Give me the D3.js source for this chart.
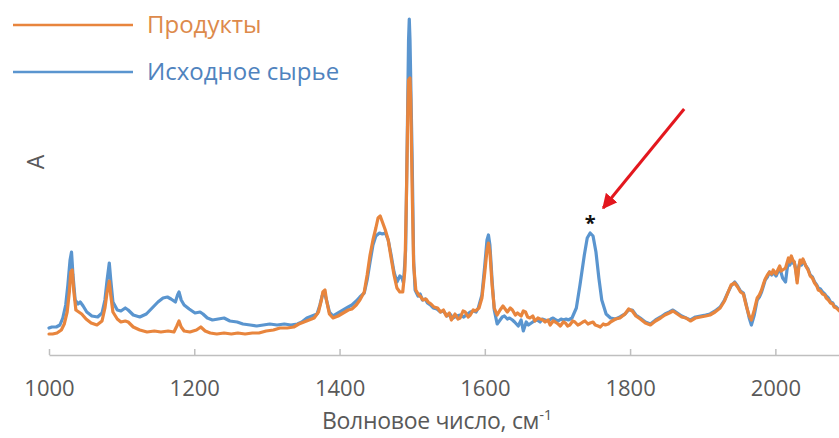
<!DOCTYPE html>
<html>
<head>
<meta charset="utf-8">
<script src="https://cdn.jsdelivr.net/npm/d3@7"></script>
<style>
  html, body { margin: 0; padding: 0; background: #fff; overflow: hidden; }
  svg { display: block; font-family: "Open Sans", "Noto Sans", sans-serif; }
</style>
</head>
<body>
<svg id="chart" width="839" height="438"></svg>
<script>
// Spectrum: wavenumber (cm-1) vs absorbance (arbitrary units)
const seriesNames = ["Продукты", "Исходное сырье"];
const seriesColors = ["#E8853D", "#5A95CF"];
const legendTextColors = ["#DD8A4B", "#4F83BE"];
const xTicks = [1000, 1200, 1400, 1600, 1800, 2000];

// Исходное сырье
const feedstock = [
  [1000,27],[1004,28],[1010,28],[1015,30],[1019,37],[1023,50],[1026,70],[1029,95],[1031,103],[1033,80],
  [1036,55],[1040,51],[1043,53],[1047,49],[1052,43],[1059,39],[1067,38],[1073,42],[1077,55],[1080,75],
  [1083,92],[1085,75],[1088,53],[1094,45],[1099,44],[1105,47],[1109,45],[1116,40],[1125,38],[1134,41],
  [1142,47],[1150,53],[1157,57],[1163,58],[1168,56],[1174,53],[1177,60],[1179,63],[1182,55],[1186,50],
  [1193,46],[1201,42],[1208,43],[1212,41],[1218,37],[1225,35],[1233,36],[1241,37],[1249,34],[1259,33],
  [1267,31],[1277,30],[1286,29],[1295,30],[1304,31],[1314,30],[1324,31],[1333,30],[1342,31],[1348,33],
  [1355,37],[1362,39],[1369,41],[1373,50],[1376,59],[1379,63],[1382,55],[1386,43],[1391,39],[1398,42],
  [1405,45],[1412,48],[1417,50],[1423,54],[1428,58],[1434,62],[1438,75],[1442,93],[1446,110],[1450,119],
  [1455,122],[1459,121],[1463,122],[1467,115],[1471,100],[1475,83],[1479,73],[1483,79],[1486,77],[1488,72],
  [1491,105],[1493,205],[1495,315],[1496,336],[1497,315],[1500,195],[1502,95],[1504,65],[1508,59],[1511,61],
  [1514,55],[1518,56],[1521,52],[1525,50],[1529,47],[1534,46],[1539,43],[1543,44],[1548,39],[1552,41],
  [1556,37],[1561,39],[1566,40],[1571,38],[1576,41],[1580,43],[1584,44],[1588,43],[1591,47],[1596,60],
  [1600,90],[1603,115],[1605,120],[1607,110],[1610,75],[1613,45],[1617,31],[1621,35],[1624,38],[1627,39],
  [1631,36],[1634,37],[1638,35],[1641,33],[1646,29],[1650,35],[1653,24],[1657,33],[1660,30],[1664,32],
  [1668,34],[1672,35],[1676,33],[1679,36],[1683,35],[1687,34],[1691,36],[1694,37],[1698,35],[1701,34],
  [1705,36],[1708,35],[1712,36],[1715,35],[1720,37],[1726,47],[1731,70],[1737,100],[1741,117],[1745,122],
  [1749,119],[1753,103],[1757,77],[1761,55],[1767,41],[1773,37],[1780,36],[1786,38],[1793,41],[1798,45],
  [1803,45],[1808,40],[1814,37],[1821,33],[1828,31],[1835,35],[1842,38],[1848,41],[1854,43],[1859,45],
  [1865,42],[1871,39],[1877,37],[1883,35],[1890,38],[1897,39],[1904,40],[1910,41],[1917,44],[1924,48],
  [1930,55],[1935,63],[1939,69],[1944,73],[1948,69],[1952,64],[1956,62],[1960,50],[1964,37],[1967,30],
  [1971,40],[1975,55],[1978,58],[1981,63],[1984,70],[1986,75],[1989,78],[1992,83],[1995,80],[1997,83],
  [2001,79],[2004,84],[2006,87],[2008,82],[2010,77],[2014,73],[2016,85],[2018,93],[2020,90],[2022,98],
  [2024,92],[2026,93],[2028,86],[2030,75],[2032,88],[2034,93],[2036,90],[2038,95],[2042,89],[2045,86],
  [2048,80],[2051,78],[2054,73],[2057,70],[2059,67],[2062,66],[2065,63],[2068,61],[2070,59],[2073,57],
  [2076,53],[2079,52],[2081,49],[2084,48],[2088,45]
];

// Продукты
const products = [
  [1000,21],[1005,21],[1011,22],[1017,25],[1021,31],[1025,43],[1028,63],[1030,83],[1032,85],[1034,65],
  [1037,45],[1041,43],[1045,41],[1051,36],[1058,32],[1066,30],[1073,34],[1077,47],[1080,63],[1083,74],
  [1085,60],[1088,43],[1094,36],[1099,33],[1105,34],[1109,33],[1116,28],[1125,25],[1135,23],[1145,24],
  [1154,23],[1164,24],[1172,23],[1176,29],[1179,34],[1182,28],[1186,24],[1194,23],[1203,25],[1209,28],
  [1215,24],[1222,22],[1231,21],[1241,22],[1251,21],[1260,22],[1270,21],[1280,22],[1289,22],[1299,24],
  [1309,25],[1318,27],[1328,27],[1337,28],[1344,31],[1351,33],[1358,35],[1365,37],[1371,43],[1375,55],
  [1377,63],[1380,65],[1382,55],[1386,41],[1391,37],[1398,39],[1405,42],[1412,45],[1417,46],[1423,50],
  [1428,55],[1434,63],[1438,80],[1442,100],[1446,115],[1450,127],[1453,137],[1456,139],[1459,133],[1463,125],
  [1467,115],[1471,97],[1475,80],[1479,67],[1483,63],[1487,63],[1490,85],[1492,155],[1494,245],[1495,275],
  [1497,277],[1498,255],[1500,165],[1502,90],[1505,65],[1509,60],[1512,58],[1515,55],[1519,56],[1522,53],
  [1526,51],[1530,48],[1535,47],[1539,43],[1543,45],[1547,39],[1551,42],[1554,35],[1559,41],[1563,36],
  [1566,37],[1570,44],[1573,43],[1577,38],[1580,40],[1584,45],[1587,44],[1592,47],[1596,57],[1600,83],
  [1603,105],[1605,112],[1607,103],[1610,70],[1613,47],[1617,40],[1621,45],[1625,49],[1628,46],[1631,43],
  [1635,47],[1638,45],[1642,40],[1645,42],[1650,39],[1653,44],[1656,43],[1659,38],[1662,37],[1666,39],
  [1669,34],[1673,37],[1676,36],[1680,35],[1683,33],[1687,35],[1690,30],[1694,34],[1697,33],[1701,31],
  [1704,29],[1708,33],[1711,32],[1714,29],[1717,30],[1721,34],[1724,33],[1728,30],[1731,31],[1735,33],
  [1738,34],[1742,31],[1745,32],[1749,33],[1752,30],[1756,29],[1759,28],[1763,31],[1766,30],[1770,31],
  [1773,33],[1780,36],[1786,37],[1793,41],[1798,46],[1803,44],[1808,39],[1814,36],[1821,32],[1828,30],
  [1835,34],[1842,37],[1848,40],[1854,42],[1859,44],[1865,41],[1871,38],[1877,37],[1883,34],[1890,37],
  [1897,38],[1904,39],[1910,40],[1917,43],[1924,47],[1930,54],[1935,63],[1939,70],[1944,72],[1948,68],
  [1952,63],[1956,61],[1960,49],[1964,39],[1967,35],[1971,45],[1975,57],[1978,60],[1981,65],[1984,72],
  [1986,76],[1989,80],[1992,83],[1995,81],[1997,85],[2001,81],[2004,86],[2006,89],[2008,84],[2010,85],
  [2014,87],[2016,92],[2018,97],[2020,93],[2022,99],[2024,95],[2026,93],[2028,84],[2030,72],[2032,86],
  [2034,95],[2036,92],[2038,96],[2042,89],[2045,85],[2048,79],[2051,77],[2054,72],[2057,69],[2059,65],
  [2062,64],[2065,61],[2068,60],[2070,57],[2073,55],[2076,52],[2079,51],[2081,48],[2084,47],[2088,44]
];

// Band marked with an asterisk (feedstock only)
const markedBand = [1745, 122];

const svg = d3.select("#chart");

const x = d3.scaleLinear().domain([1000, 2100]).range([49, 848]);
const y = d3.scaleLinear().domain([0, 340]).range([355, 15]);

// x axis with inward ticks
const xAxis = d3.axisBottom(x)
  .tickValues(xTicks)
  .tickFormat(d3.format("d"))
  .tickSizeInner(-6)
  .tickSizeOuter(0)
  .tickPadding(25);

const gx = svg.append("g")
  .attr("transform", `translate(0,${y(0)})`)
  .call(xAxis);
gx.select(".domain").attr("stroke", "#BFBFBF").attr("stroke-width", 1.5);
gx.selectAll(".tick line").attr("stroke", "#BFBFBF").attr("stroke-width", 1.5);
gx.selectAll(".tick text")
  .attr("fill", "#595959")
  .style("font-size", "22px")
  .style("font-family", "'Open Sans', sans-serif");

// axis titles
const xTitle = svg.append("text")
  .attr("x", 437)
  .attr("y", 429)
  .attr("text-anchor", "middle")
  .attr("fill", "#595959")
  .style("font-size", "23px")
  .style("letter-spacing", "-0.3px");
xTitle.append("tspan").text("Волновое число, см");
xTitle.append("tspan").attr("dy", -9).style("font-size", "15px").text("-1");

svg.append("text")
  .attr("transform", "translate(36,162) rotate(-90)")
  .attr("text-anchor", "middle")
  .attr("dy", "0.35em")
  .attr("fill", "#595959")
  .style("font-size", "23px")
  .text("A");

// spectra
const line = d3.line()
  .x(d => x(d[0]))
  .y(d => y(d[1]));

const plot = svg.append("g");
[[feedstock, seriesColors[1]], [products, seriesColors[0]]].forEach(([data, color]) => {
  plot.append("path")
    .datum(data)
    .attr("fill", "none")
    .attr("stroke", color)
    .attr("stroke-width", 3.2)
    .attr("stroke-linejoin", "round")
    .attr("stroke-linecap", "round")
    .attr("d", line);
});

// legend
const legend = svg.append("g");
seriesNames.forEach((name, i) => {
  const ly = 25 + i * 47;
  legend.append("line")
    .attr("x1", 13).attr("x2", 133)
    .attr("y1", ly).attr("y2", ly)
    .attr("stroke", seriesColors[i])
    .attr("stroke-width", 2.5);
  legend.append("text")
    .attr("x", 147)
    .attr("y", ly)
    .attr("dy", "0.35em")
    .attr("fill", legendTextColors[i])
    .style("font-size", "24px")
    .text(name);
});

// annotation: asterisk and red arrow pointing at the marked band
const starX = x(markedBand[0]);
const starBase = y(markedBand[1]) - 3;
svg.append("text")
  .attr("x", starX)
  .attr("y", starBase)
  .attr("text-anchor", "middle")
  .attr("fill", "#111")
  .style("font-size", "20px")
  .style("font-weight", "bold")
  .text("*");

svg.append("defs").append("marker")
  .attr("id", "arrowhead")
  .attr("viewBox", "0 0 10 10")
  .attr("refX", 9).attr("refY", 5)
  .attr("markerWidth", 5).attr("markerHeight", 5)
  .attr("markerUnits", "strokeWidth")
  .attr("orient", "auto")
  .append("path")
  .attr("d", "M0,0 L10,5 L0,10 Z")
  .attr("fill", "#E3171E");

svg.append("line")
  .attr("x1", starX + 94).attr("y1", 109)
  .attr("x2", starX + 13).attr("y2", 208)
  .attr("stroke", "#E3171E")
  .attr("stroke-width", 3)
  .attr("marker-end", "url(#arrowhead)");
</script>
</body>
</html>
